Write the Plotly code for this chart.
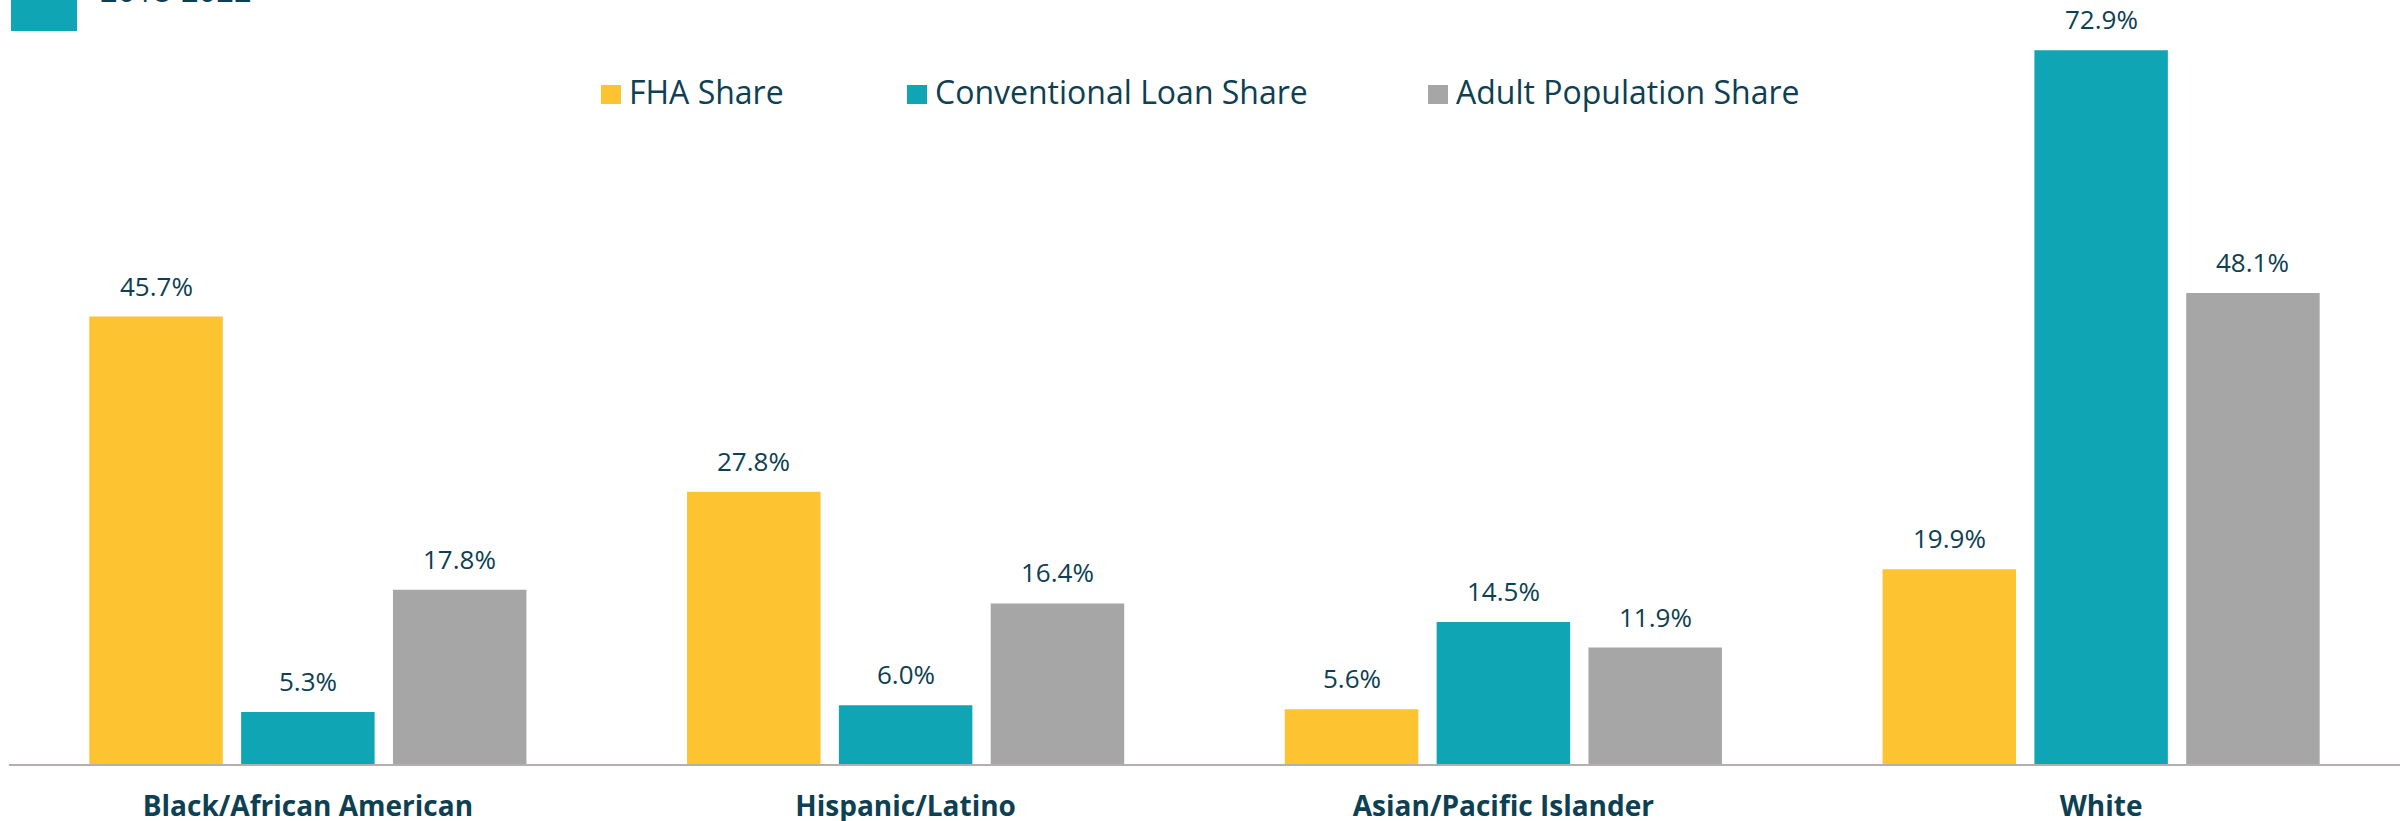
import plotly.graph_objects as go

categories = ["Black/African American", "Hispanic/Latino", "Asian/Pacific Islander", "White"]
series_names = ["FHA Share", "Conventional Loan Share", "Adult Population Share"]
fha_share = [45.7, 27.8, 5.6, 19.9]
conventional_share = [5.3, 6.0, 14.5, 72.9]
adult_pop_share = [17.8, 16.4, 11.9, 48.1]
period_label = "2018-2022"

series_values = [fha_share, conventional_share, adult_pop_share]
colors = ["#FDC331", "#10A5B4", "#A6A6A6"]
text_color = "#0D4052"
FONT = "Open Sans"

W, H = 2405, 821
ML, MR, MT, MB = 9, 5, 0, 57
PW = W - ML - MR
PH = H - MT - MB

bar_width = 0.2233
offsets = [-0.254, 0.0, 0.254]

fig = go.Figure()
for name, vals, col, off in zip(series_names, series_values, colors, offsets):
    fig.add_trace(go.Bar(
        x=categories, y=vals, name=name,
        marker=dict(color=col, line=dict(width=0)),
        width=bar_width, offset=off - bar_width / 2,
        showlegend=False, hoverinfo="x+y",
    ))

annotations = []
for vals, off in zip(series_values, offsets):
    for i, v in enumerate(vals):
        annotations.append(dict(
            x=i + off, y=v, xref="x", yref="y",
            text=f"{v:.1f}%", showarrow=False,
            xanchor="center", yanchor="bottom", yshift=11,
            font=dict(family=FONT, size=26, color=text_color),
        ))

# manual legend
legend_left_px = [601, 907, 1428]
sq = 20
leg_top_px, leg_bot_px = 85, 104
def px_to_paper_x(px):
    return (px - ML) / PW
def px_to_paper_y(py):
    return 1 - (py - MT) / PH

shapes = []
for name, col, lx in zip(series_names, colors, legend_left_px):
    shapes.append(dict(
        type="rect", xref="paper", yref="paper",
        x0=px_to_paper_x(lx), x1=px_to_paper_x(lx + sq),
        y0=px_to_paper_y(leg_bot_px), y1=px_to_paper_y(leg_top_px),
        fillcolor=col, line=dict(width=0), layer="above",
    ))
    annotations.append(dict(
        x=px_to_paper_x(lx + sq + 6), y=px_to_paper_y((leg_top_px + leg_bot_px) / 2 - 3),
        xref="paper", yref="paper", text=name, showarrow=False,
        xanchor="left", yanchor="middle",
        font=dict(family=FONT, size=32, color=text_color),
    ))

# cropped header element at top-left
shapes.append(dict(
    type="rect", xref="paper", yref="paper",
    x0=px_to_paper_x(11), x1=px_to_paper_x(77),
    y0=px_to_paper_y(31), y1=px_to_paper_y(-20),
    fillcolor=colors[1], line=dict(width=0), layer="above",
))
annotations.append(dict(
    x=px_to_paper_x(98), y=px_to_paper_y(13), xref="paper", yref="paper",
    text=period_label, showarrow=False, xanchor="left", yanchor="bottom",
    font=dict(family=FONT, size=31, color=text_color),
))

fig.update_layout(
    width=W, height=H,
    autosize=False,
    margin=dict(l=ML, r=MR, t=MT, b=MB, pad=0, autoexpand=False),
    paper_bgcolor="white", plot_bgcolor="white",
    barmode="overlay",
    shapes=shapes, annotations=annotations,
    font=dict(family=FONT, color=text_color),
    xaxis=dict(
        type="category", range=[-0.5, 3.5], automargin=False,
        showline=True, linecolor="#B3AFAF", linewidth=2,
        showgrid=False, zeroline=False, ticks="",
        tickfont=dict(family=FONT, size=28, color=text_color, weight="bold"),
        ticklabelstandoff=16,
    ),
    yaxis=dict(
        range=[0, PH / 9.79], visible=False, showgrid=False, zeroline=False,
        automargin=False,
    ),
)

fig.write_html(
    "out.html",
    config={"displayModeBar": False},
    post_script="document.body.style.margin='0';document.body.style.overflow='hidden';",
)
